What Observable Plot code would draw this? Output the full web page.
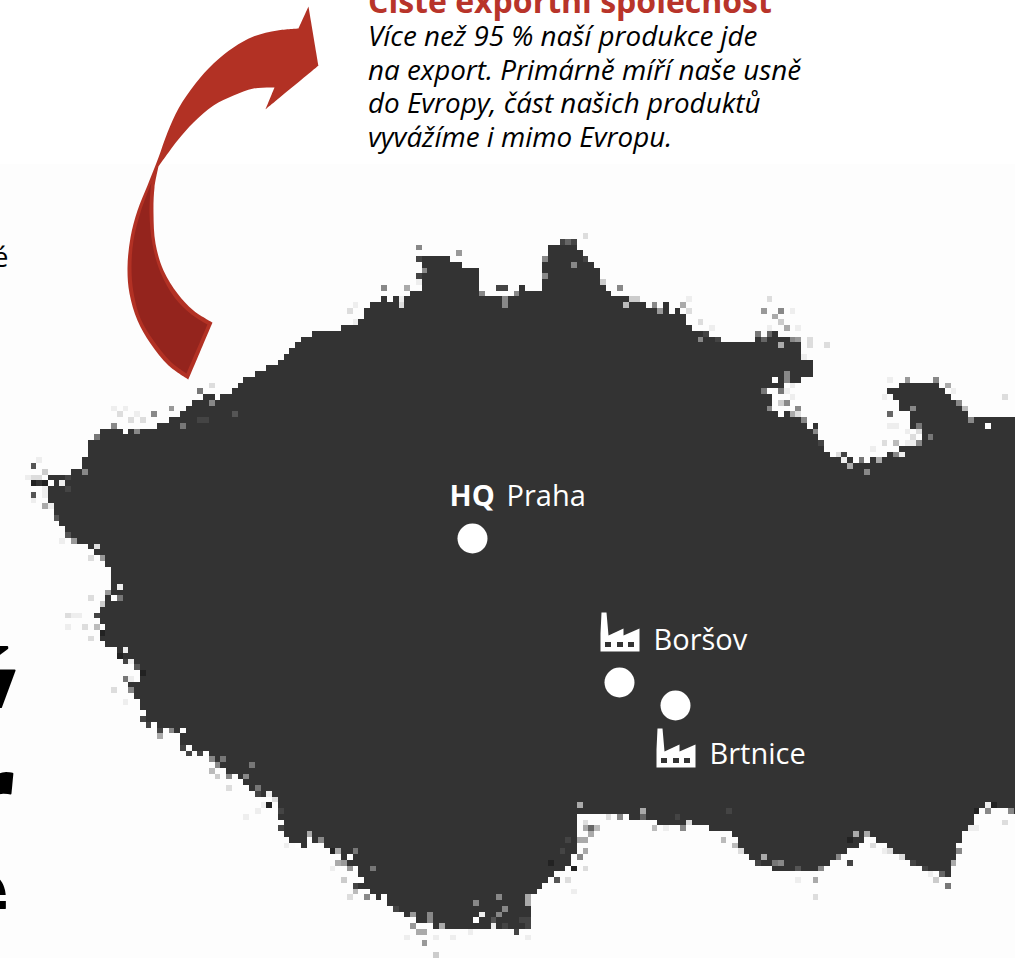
<!DOCTYPE html>
<html><head><meta charset="utf-8">
<script src="https://cdn.jsdelivr.net/npm/d3@7"></script>
<script src="https://cdn.jsdelivr.net/npm/@observablehq/plot@0.6"></script>
<style>html,body{margin:0;padding:0;background:#fff;overflow:hidden}svg{display:block}</style>
</head><body><div id="chart"></div>
<script>
const countryOutline = [[37,482],[50,477],[77,470],[83,458],[90,443],[100,430],[113,430],[143,430],[170,420],[182,410],[200,397],[230,392],[243,378],[257,372],[277,362],[287,352],[300,338],[313,333],[340,328],[360,320],[367,308],[380,300],[397,298],[407,293],[420,288],[423,268],[420,258],[440,253],[457,263],[477,270],[480,288],[487,297],[507,300],[520,293],[540,287],[545,273],[542,255],[563,243],[578,247],[590,260],[600,273],[603,290],[623,297],[637,302],[657,308],[683,315],[693,330],[707,335],[720,342],[750,343],[757,337],[770,330],[782,337],[800,343],[802,360],[813,363],[812,375],[798,382],[790,383],[773,390],[770,408],[793,413],[800,420],[817,420],[815,433],[823,447],[833,457],[847,457],[860,463],[877,458],[893,452],[903,443],[918,440],[920,430],[912,427],[910,413],[898,407],[888,388],[907,383],[923,385],[933,383],[950,395],[967,413],[983,418],[993,418],[1015,417],[1040,417],[1040,815],[1015,815],[987,802],[973,817],[960,840],[952,863],[947,877],[937,873],[923,867],[897,857],[880,840],[863,838],[847,853],[827,863],[817,873],[790,872],[767,867],[747,857],[737,840],[730,830],[710,828],[690,827],[660,823],[637,817],[587,813],[577,813],[577,847],[567,867],[547,877],[533,893],[530,927],[513,932],[500,927],[447,928],[420,923],[393,910],[373,893],[353,887],[357,873],[343,863],[340,850],[313,843],[283,837],[280,820],[277,803],[257,793],[243,783],[233,773],[213,763],[200,753],[180,743],[180,733],[157,727],[140,717],[142,700],[133,693],[128,683],[143,677],[133,663],[117,650],[100,640],[103,627],[97,613],[107,597],[110,580],[107,560],[93,550],[83,543],[67,533],[55,517],[48,497],[43,487]];
const fringePixels = [[33,465,"#555"],[33,494,"#555"],[45,505,"#aaa"],[43,471,"#ccc"],[38,460,"#eee"],[27,476,"#eee"],[33,476,"#ddd"],[38,476,"#ddd"],[44,488,"#eee"],[33,500,"#eee"],[113,408,"#eee"],[125,408,"#eee"],[137,414,"#eee"],[153,413,"#888"],[120,414,"#ddd"],[131,420,"#ddd"],[143,420,"#ddd"],[113,425,"#888"],[96,437,"#777"],[170,408,"#999"],[200,390,"#777"],[212,385,"#ddd"],[217,395,"#fff"],
[416,249,"#888"],[456,254,"#999"],[402,296,"#eee"],[404,287,"#aaa"],[400,305,"#ddd"],[352,306,"#eee"],[347,313,"#ddd"],[381,290,"#888"],[570,239,"#666"],[582,235,"#ddd"],[603,280,"#ccc"],[617,290,"#aaa"],[632,300,"#ccc"],[688,310,"#ddd"],[700,320,"#ddd"],[712,325,"#eee"],[690,300,"#eee"],
[770,300,"#ddd"],[781,308,"#888"],[764,312,"#999"],[775,317,"#aaa"],[781,323,"#ccc"],[787,328,"#aaa"],[770,325,"#eee"],[798,326,"#eee"],[793,310,"#eee"],[798,337,"#ddd"],[810,345,"#ddd"],[827,345,"#ddd"],[805,355,"#eee"],[787,390,"#eee"],[793,398,"#eee"],[778,405,"#ccc"],[781,392,"#777"],[798,411,"#ddd"],
[883,395,"#eee"],[890,377,"#eee"],[907,379,"#999"],[934,379,"#999"],[946,385,"#aaa"],[950,390,"#eee"],[1003,397,"#ddd"],[889,414,"#666"],[893,425,"#eee"],[904,432,"#eee"],[910,438,"#ddd"],[888,424,"#eee"],[882,445,"#ddd"],[870,450,"#eee"],[840,452,"#ddd"],
[590,835,"#aaa"],[584,842,"#aaa"],[578,855,"#888"],[568,880,"#ddd"],[586,870,"#ddd"],[575,890,"#eee"],[582,820,"#ddd"],[610,815,"#ddd"],[653,825,"#bbb"],[665,826,"#eee"],[725,838,"#bbb"],[732,845,"#bbb"],[740,850,"#ddd"],[870,845,"#ddd"],[885,848,"#eee"],[902,858,"#ddd"],[930,875,"#eee"],[936,880,"#ccc"],[947,883,"#777"],[815,895,"#ddd"],[800,877,"#eee"],[990,812,"#ddd"],[1003,822,"#ddd"],[975,830,"#eee"],
[417,933,"#aaa"],[422,933,"#aaa"],[422,945,"#999"],[410,928,"#ddd"],[438,955,"#ccc"],[405,935,"#eee"],[435,935,"#eee"],[450,935,"#eee"],[468,930,"#eee"],[490,925,"#eee"],[530,935,"#eee"],[347,895,"#ddd"],[330,870,"#eee"],[335,860,"#aaa"],[345,878,"#ccc"],[285,845,"#eee"],[243,815,"#eee"],[256,810,"#eee"],[268,792,"#eee"],[265,805,"#eee"],[213,770,"#bbb"],[216,778,"#ccc"],[212,760,"#aaa"],[227,790,"#ddd"],[160,735,"#aaa"],[113,687,"#ddd"],[123,700,"#eee"],[66,613,"#ddd"],[73,613,"#eee"],[80,613,"#eee"],[66,625,"#eee"],[85,625,"#ddd"],[92,640,"#ddd"],[100,605,"#ccc"],[88,600,"#ddd"],[107,590,"#eee"],[100,555,"#eee"],[90,560,"#ddd"],[62,540,"#eee"],
[85,471,"#888"],[70,488,"#444"],[67,477,"#444"],[183,423,"#777"],[200,420,"#444"],[208,420,"#444"],[210,403,"#888"],[233,413,"#555"],[127,430,"#fff"],[135,430,"#888"],[102,430,"#333"],[50,482,"#fff"],[62,482,"#eee"],[45,493,"#eee"],[35,482,"#222"],[42,482,"#222"],[50,505,"#eee"],[56,517,"#555"],[68,533,"#555"],[73,540,"#999"],[90,545,"#333"],[95,545,"#ddd"],[102,557,"#999"],[119,585,"#eee"],[113,597,"#fff"],[118,597,"#777"],[107,591,"#999"],[97,613,"#444"],[103,632,"#222"],[97,625,"#bbb"],[118,653,"#222"],[125,650,"#eee"],[130,659,"#eee"],[125,659,"#444"],[136,665,"#555"],[142,675,"#222"],[133,676,"#eee"],[125,676,"#777"],
[130,687,"#888"],[142,710,"#fff"],[140,716,"#444"],[153,722,"#fff"],[147,722,"#444"],[170,728,"#888"],[182,728,"#fff"],[158,728,"#444"],[182,745,"#444"],[187,751,"#444"],[199,751,"#444"],[204,753,"#fff"],[210,757,"#888"],[222,757,"#777"],[250,762,"#777"],[217,767,"#888"],[227,778,"#888"],[243,778,"#888"],[256,785,"#777"],[256,796,"#444"],[268,802,"#222"],[273,797,"#ddd"],[279,813,"#444"],[279,825,"#444"],[296,825,"#333"],[307,836,"#aaa"],[290,842,"#333"],[296,843,"#fff"],[301,847,"#333"],[307,842,"#fff"],[318,842,"#888"],[330,848,"#222"],[336,853,"#aaa"],[347,858,"#fff"],[353,853,"#777"],[345,865,"#999"],[347,870,"#999"],[353,870,"#fff"],[370,870,"#777"],[353,887,"#444"],[358,882,"#fff"],[353,893,"#bbb"],[365,898,"#888"],[377,893,"#333"],[383,898,"#fff"],[397,905,"#333"],[393,910,"#444"],[415,915,"#999"],[427,915,"#888"],[415,927,"#999"],[427,922,"#888"],[443,927,"#aaa"],[450,927,"#333"],[462,922,"#333"],[473,917,"#fff"],[490,922,"#555"],[483,915,"#eee"],[497,915,"#888"],[507,910,"#888"],[513,933,"#444"],[523,917,"#444"],[530,917,"#444"],[530,927,"#444"],[503,927,"#444"],[530,898,"#aaa"],[530,905,"#aaa"],[478,905,"#888"],[497,898,"#888"],
[580,802,"#bbb"],[582,825,"#aaa"],[593,825,"#666"],[598,825,"#bbb"],[580,842,"#aaa"],[587,848,"#aaa"],[580,858,"#888"],[575,870,"#222"],[552,865,"#222"],[560,848,"#444"],[567,837,"#444"],[558,877,"#555"],
[381,300,"#333"],[370,307,"#333"],[353,323,"#eee"],[417,277,"#444"],[420,260,"#444"],[422,272,"#888"],[420,282,"#eee"],[483,293,"#888"],[497,289,"#444"],[507,290,"#444"],[502,297,"#888"],[524,289,"#333"],[518,295,"#888"],[507,306,"#888"],[542,277,"#888"],[542,260,"#888"],[563,243,"#444"],[575,243,"#444"],[553,248,"#333"],[582,260,"#ccc"],[575,265,"#888"],[587,260,"#444"],[618,289,"#888"],[638,300,"#ccc"],[627,306,"#bbb"],[655,306,"#888"],[667,306,"#333"],[683,306,"#aaa"],[678,312,"#333"],[660,312,"#999"],[700,338,"#aaa"],[707,335,"#444"],[717,339,"#444"],
[706,335,"#444"],[700,340,"#888"],[755,334,"#777"],[768,334,"#666"],[763,340,"#666"],[782,345,"#aaa"],[787,339,"#333"],[800,339,"#999"],[793,338,"#888"],[807,340,"#ddd"],[827,346,"#ddd"],[807,363,"#333"],[807,374,"#333"],[787,374,"#888"],[787,380,"#888"],[775,380,"#fff"],[798,379,"#333"],[793,385,"#eee"],[770,391,"#fff"],[764,391,"#777"],[787,391,"#eee"],[775,397,"#fff"],[770,408,"#888"],[781,413,"#fff"],[787,403,"#888"],[798,408,"#888"],[793,413,"#aaa"],[804,420,"#888"],[810,426,"#fff"],[815,430,"#888"],[820,443,"#444"],[843,453,"#444"],[844,460,"#eee"],[860,460,"#777"],[867,471,"#888"],[850,465,"#aaa"],[877,460,"#aaa"],[923,388,"#333"],[935,380,"#888"],[947,385,"#aaa"],[958,403,"#888"],[963,408,"#bbb"],[969,420,"#888"],[987,425,"#fff"],[912,408,"#888"],[918,425,"#777"],[929,437,"#777"],[918,442,"#888"],[901,453,"#eee"],[895,453,"#888"],[895,443,"#bbb"],[907,443,"#eee"],[912,443,"#eee"],[917,431,"#ddd"],
[581,802,"#aaa"],[643,808,"#aaa"],[643,818,"#666"],[617,815,"#888"],[678,818,"#444"],[690,820,"#ddd"],[683,828,"#888"],[730,813,"#444"],[763,858,"#aaa"],[757,865,"#444"],[773,865,"#777"],[780,865,"#888"],[787,870,"#333"],[797,870,"#555"],[810,870,"#333"],[815,877,"#aaa"],[820,870,"#888"],[838,858,"#888"],[849,865,"#444"],[855,836,"#aaa"],[867,836,"#aaa"],[850,842,"#222"],[888,848,"#ddd"],[913,865,"#444"],[923,867,"#444"],[943,876,"#666"],[952,865,"#aaa"],[957,848,"#888"],[968,825,"#eee"],[987,802,"#eee"],[992,802,"#222"],[987,808,"#888"],[975,813,"#222"],[1013,813,"#888"]];
const arrowShape = [[308,6],[308,6],[318,65],[318,65],[265,109],[265,109],[274,87],[274,87],[253,88],[233,95],[213,105],[193,122],[177,140],[158,166],[158,166],[154,187],[153,213],[155,243],[163,270],[177,293],[193,310],[212,322],[212,322],[188,379],[188,379],[168,365],[150,343],[137,320],[129,293],[127,267],[130,237],[137,210],[147,185],[158,157],[167,132],[178,108],[195,83],[213,63],[233,47],[253,36],[277,30],[298,28],[298,28],[308,6],[308,6]];
const arrowShade = [[151,182],[151,182],[140,212],[133,240],[131,267],[133,292],[140,318],[153,340],[170,361],[186,373],[186,373],[207,324],[207,324],[191,314],[174,297],[160,272],[152,244],[149,213],[150,190],[151,182],[151,182]];
const factorySites = [{name:"Boršov",dx:0,dy:0},{name:"Brtnice",dx:56,dy:116}];
const factoryOutline = [[600,651],[600,633],[601,612],[606,612],[608,635],[623,628],[623,635],[639,628],[639,651]];
const factoryWindows = [[605,611],[617,623],[628,634]];
const cityNames = ["Praha","Boršov","Brtnice"];
const cityLabelX = [506,653,709];
const cityLabelY = [505,649,763];
const dotX = [472,619,675];
const dotY = [538,682,705];
const noteLines = ["Více než 95 % naší produkce jde","na export. Primárně míří naše usně","do Evropy, část našich produktů","vyvážíme i mimo Evropu."];
const noteBaselines = [45,79,112,146];
const clippedWords = [{t:"ý",y:731,x:14},{t:"r",y:834,x:13},{t:"e",y:932,x:9}];
const letterCover = [{x1:0,x2:25,y1:708,y2:760},{x1:0,x2:25,y1:801,y2:850},{x1:0,x2:25,y1:895,y2:901},{x1:0,x2:25,y1:909,y2:950}];

const cell = 5.75, ox = -4.5, oy = 163.7;
const key = (x,y) => Math.floor((x-ox)/cell)+","+Math.floor((y-oy)/cell);
const fringe = new Map(fringePixels.map(([x,y,c]) => [key(x,y),c]));
const factoryLines = factorySites.flatMap(s => factoryOutline.map(([x,y]) => ({x:x+s.dx,y:y+s.dy,z:s.name})));
const factoryRects = factorySites.flatMap(s => factoryWindows.map(([a,b]) => ({x1:a+s.dx,x2:b+s.dx,y1:642+s.dy,y2:647+s.dy})));
const font = "'Open Sans', sans-serif";

const plot = Plot.plot({
  width:1015,height:958,margin:0,
  style:{background:"#fff",fontFamily:font},
  x:{domain:[0,1015],range:[0,1015],axis:null},
  y:{domain:[0,958],range:[0,958],axis:null},
  color:{type:"identity"},
  marks:[
    Plot.raster({x1:ox,y1:oy,x2:ox+cell*178,y2:oy+cell*139,pixelSize:cell,imageRendering:"pixelated",
      fill:(x,y)=>{
        const k=key(x,y);
        if(fringe.has(k)) return fringe.get(k);
        return d3.polygonContains(countryOutline,[x,y])?"#333333":"#fdfdfd";
      }}),
    Plot.line(arrowShape,{x:d=>d[0],y:d=>d[1],fill:"#b23124",stroke:"none",curve:"catmull-rom"}),
    Plot.line(arrowShade,{x:d=>d[0],y:d=>d[1],fill:"#94241d",stroke:"none",curve:"catmull-rom"}),
    Plot.text(["Čisté exportní společnost"],{x:()=>367.5,y:()=>12,text:d=>d,textAnchor:"start",lineAnchor:"bottom",fill:"#b8342a",fontWeight:700,fontSize:32}),
    Plot.text(noteLines,{x:()=>367.5,y:(d,i)=>noteBaselines[i],text:d=>d,textAnchor:"start",lineAnchor:"bottom",fill:"#000",fontStyle:"italic",fontSize:27.8}),
    Plot.text(["é"],{x:()=>8,y:()=>266,text:d=>d,textAnchor:"end",lineAnchor:"bottom",fill:"#000",fontSize:27}),
    Plot.text(clippedWords,{x:"x",y:"y",text:"t",textAnchor:"end",lineAnchor:"bottom",fill:"#000",stroke:"#000",strokeWidth:2,fontWeight:800,fontSize:110}),
    Plot.rect(letterCover,{x1:"x1",x2:"x2",y1:"y1",y2:"y2",fill:"#fdfdfd"}),
    Plot.line(factoryLines,{x:"x",y:"y",z:"z",fill:"#fff",stroke:"none"}),
    Plot.rect(factoryRects,{x1:"x1",x2:"x2",y1:"y1",y2:"y2",fill:"#333"}),
    Plot.dot(dotX,{x:d=>d,y:(d,i)=>dotY[i],r:15,fill:"#fff",stroke:"none"}),
    Plot.text(["HQ"],{x:()=>449,y:()=>505,text:d=>d,textAnchor:"start",lineAnchor:"bottom",fill:"#fff",fontWeight:700,fontSize:29}),
    Plot.text(cityNames,{x:(d,i)=>cityLabelX[i],y:(d,i)=>cityLabelY[i],text:d=>d,textAnchor:"start",lineAnchor:"bottom",fill:"#fff",fontSize:29})
  ]
});
document.getElementById("chart").appendChild(plot);
</script></body></html>
